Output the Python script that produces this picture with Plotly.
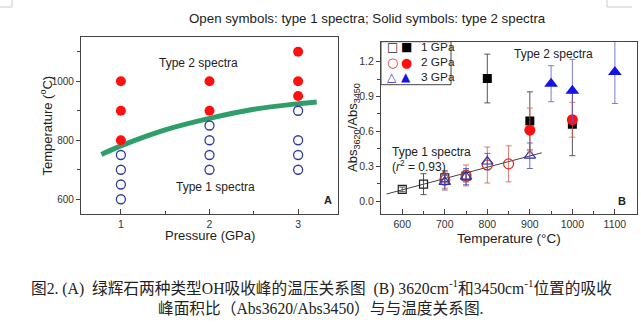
import plotly.graph_objects as go

# ---------------- data: panel A ----------------
pA_type2_P = [1, 1, 1, 2, 2, 3, 3, 3]
pA_type2_T = [1000, 900, 800, 1000, 900, 1100, 1000, 950]
pA_type1_P = [1, 1, 1, 1, 2, 2, 2, 2, 3, 3, 3, 3]
pA_type1_T = [750, 700, 650, 600, 850, 800, 750, 700, 900, 800, 750, 700]
boundary_P = [0.78, 1.0, 1.5, 2.0, 2.5, 3.0, 3.21]
boundary_T = [752, 781, 835, 874, 905, 924, 930]

# ---------------- data: panel B ----------------
g1_open_T = [600, 650, 700, 750]
g1_open_y = [0.10, 0.145, 0.20, 0.215]
g1_open_e = [0.02, 0.09, 0.06, 0.05]
g1_solid_T = [800, 900, 1000]
g1_solid_y = [1.055, 0.69, 0.66]
g1_solid_e = [0.21, 0.25, 0.27]

g2_open_T = [700, 750, 800, 850]
g2_open_y = [0.18, 0.22, 0.31, 0.32]
g2_open_e = [0.07, 0.09, 0.155, 0.155]
g2_solid_T = [900, 1000]
g2_solid_y = [0.61, 0.70]
g2_solid_e = [0.19, 0.15]

g3_open_T = [700, 750, 800, 900]
g3_open_y = [0.165, 0.21, 0.34, 0.39]
g3_open_e = [0.07, 0.07, 0.07, 0.11]
g3_solid_T = [950, 1000, 1100]
g3_solid_y = [1.01, 0.95, 1.11]
g3_solid_e = [0.155, 0.27, 0.27]

fit_T_range = [563, 928]
fit_slope = 0.000973
fit_intercept = -0.4878

legend_labels = ["1 GPa", "2 GPa", "3 GPa"]
legend_open = ["□", "○", "△"]
legend_solid = ["■", "●", "▲"]

title_text = "Open symbols: type 1 spectra; Solid symbols: type 2 spectra"
caption1 = "图2. (A)  绿辉石两种类型OH吸收峰的温压关系图  (B) 3620cm<sup>-1</sup>和3450cm<sup>-1</sup>位置的吸收"
caption2 = "峰面积比（Abs3620/Abs3450）与与温度关系图."

FONT = "Arial, Liberation Sans, sans-serif"
RED = "#ff1010"
BLUE_OPEN = "#2f3c9e"
BLUE = "#1414e6"
GREEN = "#2f9e68"
AX = "#444444"

fig = go.Figure()

# panel A
fig.add_trace(go.Scatter(x=boundary_P, y=boundary_T, mode="lines",
                         line=dict(color=GREEN, width=5, shape="spline"),
                         xaxis="x", yaxis="y", showlegend=False))
fig.add_trace(go.Scatter(x=pA_type2_P, y=pA_type2_T, mode="markers",
                         marker=dict(symbol="circle", size=10, color=RED, line=dict(width=0)),
                         xaxis="x", yaxis="y", showlegend=False))
fig.add_trace(go.Scatter(x=pA_type1_P, y=pA_type1_T, mode="markers",
                         marker=dict(symbol="circle-open", size=9, color=BLUE_OPEN, line=dict(width=1.3)),
                         xaxis="x", yaxis="y", showlegend=False))

# panel B fit line
fit_y = [fit_intercept + fit_slope * t for t in fit_T_range]
fig.add_trace(go.Scatter(x=fit_T_range, y=fit_y, mode="lines",
                         line=dict(color="#444444", width=1),
                         xaxis="x2", yaxis="y2", showlegend=False))


def add_series(T, y, e, symbol, color, ecolor, size, lw=1.2):
    fig.add_trace(go.Scatter(
        x=T, y=y, mode="markers", xaxis="x2", yaxis="y2", showlegend=False,
        error_y=dict(type="data", array=e, visible=True, color=ecolor, thickness=1, width=3),
        marker=dict(symbol=symbol, size=size, color=color, line=dict(width=lw, color=color))))


add_series(g1_open_T, g1_open_y, g1_open_e, "square-open", "#222222", "#555555", 8)
add_series(g2_open_T, g2_open_y, g2_open_e, "circle-open", "#d83030", "rgba(210,80,60,0.75)", 10)
add_series(g3_open_T, g3_open_y, g3_open_e, "triangle-up-open", "#3030b0", "rgba(70,70,190,0.8)", 10)
add_series(g1_solid_T, g1_solid_y, g1_solid_e, "square", "#000000", "#555555", 9, 0)
add_series(g2_solid_T, g2_solid_y, g2_solid_e, "circle", RED, "rgba(220,90,80,0.8)", 11, 0)
add_series(g3_solid_T, g3_solid_y, g3_solid_e, "triangle-up", BLUE, "rgba(90,90,210,0.8)", 12, 0)

axis_common = dict(showline=True, linecolor=AX, linewidth=1.2, mirror=True,
                   tickcolor=AX, showgrid=False, zeroline=False)
xticks = dict(ticks="inside", ticklen=5, tickfont=dict(family=FONT, size=10.5, color="#333333"))
yticks = dict(ticks="outside", ticklen=4, tickfont=dict(family=FONT, size=10, color="#333333"))
y2ticks = dict(ticks="outside", ticklen=4, tickfont=dict(family=FONT, size=10.5, color="#333333"))

W, H = 641, 331
xA = [81 / W, 338 / W]
yA = [1 - 214 / H, 1 - 37 / H]
xB = [381 / W, 637 / W]
yB = [1 - 214 / H, 1 - 41.7 / H]

fig.update_layout(
    width=W, height=H, margin=dict(l=0, r=0, t=0, b=0),
    paper_bgcolor="white", plot_bgcolor="white",
    xaxis=dict(domain=xA, range=[0.55, 3.45], tickvals=[1, 2, 3],
               minor=dict(tickvals=[1.5, 2.5], ticks="inside", ticklen=3, tickcolor=AX),
               anchor="y", **xticks, **axis_common),
    yaxis=dict(domain=yA, range=[550, 1150], tickvals=[600, 800, 1000],
               minor=dict(tickvals=[700, 900, 1100], ticks="outside", ticklen=3, tickcolor=AX),
               anchor="x", **yticks, **axis_common),
    xaxis2=dict(domain=xB, range=[550, 1152], tickvals=[600, 700, 800, 900, 1000, 1100],
                minor=dict(tickvals=[650, 750, 850, 950, 1050], ticks="inside", ticklen=3, tickcolor=AX),
                anchor="y2", **xticks, **axis_common),
    yaxis2=dict(domain=yB, range=[-0.112, 1.372], tickvals=[0, 0.3, 0.6, 0.9, 1.2], tickformat=".1f",
                minor=dict(tickvals=[0.15, 0.45, 0.75, 1.05], ticks="outside", ticklen=3, tickcolor=AX),
                anchor="x2", **y2ticks, **axis_common),
)

ann_font = dict(family=FONT, size=12, color="#222222")
title_font = dict(family=FONT, size=13, color="#222222")


def pann(text, px, py, **kw):
    kw.setdefault("xanchor", "center")
    kw.setdefault("yanchor", "middle")
    fig.add_annotation(text=text, x=px / W, y=1 - py / H, xref="paper", yref="paper",
                       showarrow=False, **kw)


pann(title_text, 367, 19, font=dict(family=FONT, size=13.3, color="#222222"))

# axis titles
pann("Pressure (GPa)", 210, 235.5, font=title_font)
pann("Temperature (<sup>o</sup>C)", 46, 125.5, textangle=-90, font=title_font)
pann("Temperature (°C)", 509, 238, font=dict(family=FONT, size=13.5, color="#222222"))
pann("Abs<sub>3620</sub>/Abs<sub>3450</sub>", 353, 128, textangle=-90, font=title_font)

fig.add_annotation(text="Type 2 spectra", x=1.88, y=1062, xref="x", yref="y", showarrow=False, font=ann_font)
fig.add_annotation(text="Type 1 spectra", x=2.07, y=642, xref="x", yref="y", showarrow=False, font=ann_font)
pann("<b>A</b>", 328, 200, font=dict(family=FONT, size=11, color="#222222"))
fig.add_annotation(text="Type 2 spectra", x=955, y=1.265, xref="x2", yref="y2", showarrow=False, font=ann_font)
fig.add_annotation(text="Type 1 spectra", x=572, y=0.42, xref="x2", yref="y2", xanchor="left",
                   showarrow=False, font=ann_font)
fig.add_annotation(text="(<i>r</i><sup>2</sup> = 0.93)", x=572, y=0.305, xref="x2", yref="y2", xanchor="left",
                   showarrow=False, font=ann_font)
pann("<b>B</b>", 622, 201, font=dict(family=FONT, size=11, color="#222222"))

# legend box (panel B, top-left)
fig.add_shape(type="rect", x0=381 / W, x1=451 / W, y0=1 - 84.7 / H, y1=1 - 41.7 / H,
              xref="paper", yref="paper", line=dict(color=AX, width=1), fillcolor="white", layer="above")
open_cols = ["#222222", "#d83030", "#3030b0"]
solid_cols = ["#000000", "#ff1010", "#1414e6"]
glyph_sizes = [12, 13, 12]
for i, lab in enumerate(legend_labels):
    py = 47.5 + i * 14.8
    gfont = dict(family="DejaVu Sans", size=glyph_sizes[i])
    pann(legend_open[i], 392, py, font=dict(color=open_cols[i], **gfont))
    pann(legend_solid[i], 406, py, font=dict(color=solid_cols[i], **gfont))
    pann(lab, 418.5, py, xanchor="left", font=dict(family=FONT, size=11.8, color="#222222"))

cap_font = dict(family="Liberation Serif, Noto Sans CJK SC, serif", size=15.7, color="#222222")
pann(caption1, 321, 287, font=cap_font)
pann(caption2, 321, 308, font=cap_font)

# faint crop marks at the top corners
for x0, y0, x1, y1 in [(12, 0, 12, 7), (0, 7, 12, 7), (607, 0, 607, 7), (607, 7, 632, 7)]:
    fig.add_shape(type="line", x0=x0 / W, x1=x1 / W, y0=1 - y0 / H, y1=1 - y1 / H,
                  xref="paper", yref="paper", line=dict(color="#cccccc", width=1))

fig.write_html("out.html")
